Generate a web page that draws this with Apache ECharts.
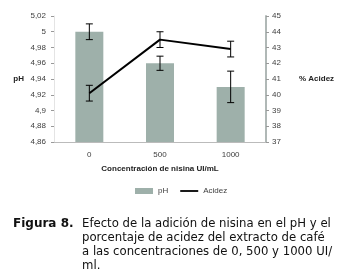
<!DOCTYPE html>
<html>
<head>
<meta charset="utf-8">
<script src="https://cdn.jsdelivr.net/npm/echarts@6/dist/echarts.min.js"></script>
<style>
  html, body { margin: 0; padding: 0; background: #fff; }
  #chart { width: 341px; height: 279px; }
</style>
</head>
<body>
<div id="chart"></div>
<script>
const categories = ['0', '500', '1000'];
const phValues = [5.0, 4.96, 4.93];
const phErrors = [0.01, 0.009, 0.02];
const acidValues = [40.1, 43.5, 42.9];
const acidErrors = [0.5, 0.5, 0.5];
const captionLines = [
  'Efecto de la adición de nisina en el pH y el',
  'porcentaje de acidez del extracto de café',
  'a las concentraciones de 0, 500 y 1000 UI/',
  'ml.'
];

const FONT = 'Liberation Sans';
const TXT = '#404040';
const BAR = '#9eb0aa';

// error whiskers drawn through the axes, one custom series per y axis
function errorSeries(values, errors, axisIdx) {
  return {
    type: 'custom',
    yAxisIndex: axisIdx,
    z: 10,
    data: values.map((v, i) => [i, v - errors[i], v + errors[i]]),
    renderItem: (params, api) => {
      const lo = api.coord([api.value(0), api.value(1)]);
      const hi = api.coord([api.value(0), api.value(2)]);
      const w = 3.5;
      const style = { stroke: '#000', lineWidth: 1 };
      return {
        type: 'group',
        children: [
          { type: 'line', shape: { x1: lo[0], y1: lo[1], x2: hi[0], y2: hi[1] }, style },
          { type: 'line', shape: { x1: lo[0] - w, y1: lo[1], x2: lo[0] + w, y2: lo[1] }, style },
          { type: 'line', shape: { x1: hi[0] - w, y1: hi[1], x2: hi[0] + w, y2: hi[1] }, style }
        ]
      };
    }
  };
}

const chart = echarts.init(document.getElementById('chart'));
chart.setOption({
  animation: false,
  textStyle: { fontFamily: FONT },
  grid: { left: 54, right: 75, top: 16, bottom: 137 },
  legend: {
    top: 182,
    left: 130,
    itemGap: 12,
    itemWidth: 18,
    itemHeight: 6,
    textStyle: { fontSize: 8, color: TXT, fontFamily: FONT },
    data: [
      { name: 'pH', icon: 'rect' },
      { name: 'Acidez', icon: 'path://M0,4 L20,4 L20,6 L0,6 Z', itemStyle: { color: '#000' } }
    ]
  },
  xAxis: {
    type: 'category',
    data: categories,
    name: 'Concentración de nisina UI/mL',
    nameLocation: 'middle',
    nameGap: 23,
    nameTextStyle: { fontSize: 8, fontWeight: 'bold', color: '#222', fontFamily: FONT },
    axisLine: { lineStyle: { color: '#bbb' } },
    axisTick: { length: 3, lineStyle: { color: '#999' } },
    axisLabel: { fontSize: 8, color: TXT, margin: 9 }
  },
  yAxis: [
    {
      type: 'value',
      min: 4.86, max: 5.02, interval: 0.02,
      name: 'pH',
      nameLocation: 'middle',
      nameGap: 30,
      nameRotate: 0,
      nameTextStyle: { fontSize: 8, fontWeight: 'bold', color: '#222', fontFamily: FONT },
      splitLine: { show: false },
      axisLine: { show: true, lineStyle: { color: '#e4e4e4' } },
      axisTick: { show: true, length: 3, lineStyle: { color: '#999' } },
      axisLabel: {
        fontSize: 8, color: TXT, margin: 8,
        formatter: v => String(+v.toFixed(2)).replace('.', ',')
      }
    },
    {
      type: 'value',
      min: 37, max: 45, interval: 1,
      name: '% Acidez',
      nameLocation: 'middle',
      nameGap: 33,
      nameRotate: 0,
      nameTextStyle: { fontSize: 8, fontWeight: 'bold', color: '#222', fontFamily: FONT },
      splitLine: { show: false },
      axisLine: { show: true, lineStyle: { color: '#b0b8b6', width: 2 } },
      axisTick: { show: true, length: 3, lineStyle: { color: '#999' } },
      axisLabel: { fontSize: 8, color: TXT, margin: 6 }
    }
  ],
  series: [
    {
      name: 'pH',
      type: 'bar',
      barWidth: 28,
      itemStyle: { color: BAR },
      data: phValues
    },
    {
      name: 'Acidez',
      type: 'line',
      yAxisIndex: 1,
      symbol: 'none',
      lineStyle: { color: '#000', width: 2 },
      itemStyle: { color: '#000' },
      z: 5,
      data: acidValues
    },
    errorSeries(phValues, phErrors, 0),
    errorSeries(acidValues, acidErrors, 1)
  ],
  graphic: [
    {
      type: 'text', left: 13, top: 218,
      style: { text: 'Figura 8.', font: 'bold 12px "DejaVu Sans"', fill: '#111' }
    },
    ...captionLines.map((t, i) => ({
      type: 'text', left: 82, top: 218 + i * 14,
      style: { text: t, font: '11.7px "DejaVu Sans"', fill: '#111' }
    }))
  ]
});
</script>
</body>
</html>
